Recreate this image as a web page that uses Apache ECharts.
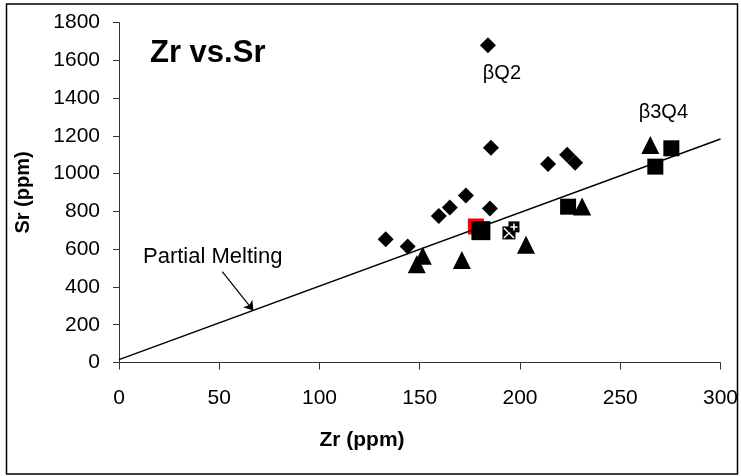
<!DOCTYPE html>
<html>
<head>
<meta charset="utf-8">
<script src="https://cdn.jsdelivr.net/npm/echarts@6/dist/echarts.min.js"></script>
<style>
html, body { margin: 0; padding: 0; background: #fff; }
#chart { width: 741px; height: 476px; }
</style>
</head>
<body>
<div id="chart"></div>
<script>
// axis ranges
var xMin = 0, xMax = 300, xStep = 50;
var yMin = 0, yMax = 1800, yStep = 200;

// diamonds
var diamondZr = [133, 144, 159.5, 165, 173, 185, 185.5, 184, 214, 223.5, 227.5];
var diamondSr = [653, 614, 776, 820, 884, 815, 1137, 1680, 1051, 1100, 1058];

// triangles
var triangleZr = [148.5, 151.5, 171, 203, 231, 265];
var triangleSr = [520, 565, 543, 623, 826, 1152];

// squares
var squareZr = [224, 267.5, 275.5];
var squareSr = [825, 1037, 1134];
var redSquareZr = [178];
var redSquareSr = [720];
var bigSquareZr = [180.5];
var bigSquareSr = [698];
var crossSquareZr = [194.5];
var crossSquareSr = [686];
var plusSquareZr = [197];
var plusSquareSr = [718];

// partial melting line + arrow
var meltingZr = [0, 300];
var meltingSr = [15, 1183];
var arrowZr = [51.5, 67];
var arrowSr = [481, 275];

var FONT = '"Liberation Sans", Arial, sans-serif';

function pairs(xs, ys) {
  return xs.map(function (x, i) { return [x, ys[i]]; });
}

var diamondData = pairs(diamondZr, diamondSr);
// βQ2 label sits on the high diamond
diamondData[7] = {
  value: diamondData[7],
  label: { show: true, formatter: 'βQ2', position: 'inside', offset: [14, 28],
    color: '#000', fontFamily: FONT, fontSize: 20 }
};
var squareData = pairs(squareZr, squareSr);
squareData[2] = {
  value: squareData[2],
  label: { show: true, formatter: 'β3Q4', position: 'inside', offset: [-8, -36],
    color: '#000', fontFamily: FONT, fontSize: 20 }
};

var chart = echarts.init(document.getElementById('chart'));

function dot(symbol, size, color, data) {
  return {
    type: 'scatter', symbol: symbol, symbolSize: size,
    itemStyle: { color: color, opacity: 1 },
    emphasis: { disabled: true },
    data: data
  };
}

var option = {
  animation: false,
  backgroundColor: '#fff',
  grid: { left: 119, top: 22.5, width: 603, height: 340 },
  xAxis: {
    type: 'value', min: xMin, max: xMax, interval: xStep,
    splitLine: { show: false },
    axisLine: { lineStyle: { color: '#333', width: 1 } },
    axisTick: { show: true, inside: false, length: 7, lineStyle: { color: '#333' } },
    axisLabel: { margin: 25, color: '#000', fontFamily: FONT, fontSize: 21,
      formatter: function (v) { return String(v); } }
  },
  yAxis: {
    type: 'value', min: yMin, max: yMax, interval: yStep,
    name: 'Sr (ppm)', nameLocation: 'middle', nameGap: 86,
    nameTextStyle: { color: '#000', fontFamily: FONT, fontSize: 20, fontWeight: 'bold' },
    splitLine: { show: false },
    axisLine: { show: true, lineStyle: { color: '#333', width: 1 } },
    axisTick: { show: true, inside: false, length: 6, lineStyle: { color: '#333' } },
    axisLabel: { margin: 19, color: '#000', fontFamily: FONT, fontSize: 21,
      formatter: function (v) { return String(v); } }
  },
  series: [
    {
      type: 'line',
      data: pairs(meltingZr, meltingSr),
      showSymbol: false,
      lineStyle: { color: '#000', width: 1.5 },
      silent: true,
      markLine: {
        silent: true,
        symbol: ['none', 'arrow'],
        symbolSize: 9,
        label: { show: false },
        lineStyle: { color: '#000', width: 1.2, type: 'solid' },
        data: [[
          { coord: [arrowZr[0], arrowSr[0]] },
          { coord: [arrowZr[1], arrowSr[1]] }
        ]]
      }
    },
    dot('diamond', 16, '#000', diamondData),
    dot('triangle', 18, '#000', pairs(triangleZr, triangleSr)),
    dot('rect', 16, '#000', squareData),
    dot('rect', 16, '#ff0000', pairs(redSquareZr, redSquareSr)),
    dot('rect', 19, '#000', pairs(bigSquareZr, bigSquareSr)),
    dot('rect', 13, '#000', pairs(crossSquareZr, crossSquareSr)),
    {
      type: 'scatter', symbol: 'path://M0,0L10,10M10,0L0,10', symbolSize: 10,
      itemStyle: { color: 'none', borderColor: '#fff', borderWidth: 1.5, opacity: 1 },
      data: pairs(crossSquareZr, crossSquareSr)
    },
    dot('rect', 11, '#000', pairs(plusSquareZr, plusSquareSr)),
    {
      type: 'scatter', symbol: 'path://M5,0L5,10M0,5L10,5', symbolSize: 7,
      itemStyle: { color: 'none', borderColor: '#fff', borderWidth: 1.5, opacity: 1 },
      data: pairs(plusSquareZr, plusSquareSr)
    }
  ],
  graphic: [
    {
      type: 'rect', silent: true,
      shape: { x: 6.5, y: 4, width: 731, height: 470 },
      style: { fill: 'none', stroke: '#000', lineWidth: 1.5 }
    },
    {
      type: 'text', left: 150, top: 38,
      style: { text: 'Zr vs.Sr', font: 'bold 31px ' + FONT, fill: '#000' }
    },
    {
      type: 'text', left: 143, top: 246,
      style: { text: 'Partial Melting', font: '22px ' + FONT, fill: '#000' }
    },
    {
      type: 'text', x: 362, y: 440,
      style: { text: 'Zr (ppm)', font: 'bold 21px ' + FONT, fill: '#000',
        textAlign: 'center', textVerticalAlign: 'middle' }
    }
  ]
};

chart.setOption(option);
</script>
</body>
</html>
